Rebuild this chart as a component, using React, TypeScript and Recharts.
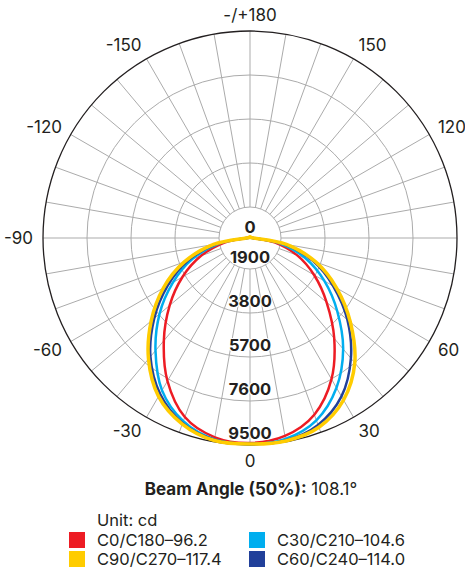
import { RadarChart, Radar, PolarGrid, PolarAngleAxis, PolarRadiusAxis } from 'recharts';

// gamma angles in degrees: 0 straight down, negative on the left, positive on the right.
// listed clockwise on screen starting at the bottom
const ANGLES = [
  0, -10, -20, -30, -40, -50, -60, -70, -80, -90, -100, -110, -120, -130, -140, -150, -160, -170,
  180, 170, 160, 150, 140, 130, 120, 110, 100, 90, 80, 70, 60, 50, 40, 30, 20, 10,
];

// luminous intensity (cd), one value per angle above
const C0_C180 = [
  9410, 9300, 8790, 7690, 6350, 5090, 3930, 2810, 1680, 690, 620, 600, 600, 600, 600, 600, 600, 600,
  600, 600, 600, 600, 600, 600, 600, 600, 620, 690, 1640, 2720, 3760, 4880, 6220, 7600, 8680, 9240,
];
const C30_C210 = [
  9460, 9390, 8980, 8160, 6910, 5660, 4400, 3200, 1900, 690, 620, 600, 600, 600, 600, 600, 600, 600,
  600, 600, 600, 600, 600, 600, 600, 600, 620, 690, 1860, 3110, 4270, 5480, 6820, 8030, 8940, 9370,
];
const C60_C240 = [
  9460, 9410, 9070, 8330, 7250, 5960, 4660, 3410, 2030, 690, 620, 600, 600, 600, 600, 600, 600, 600,
  600, 600, 600, 600, 600, 600, 600, 600, 620, 690, 2070, 3450, 4710, 6050, 7340, 8460, 9150, 9440,
];
const C90_C270 = [
  9460, 9440, 9110, 8460, 7380, 6130, 4880, 3580, 2160, 730, 640, 620, 610, 610, 610, 610, 610, 610,
  590, 610, 610, 610, 610, 610, 610, 620, 640, 730, 2160, 3580, 4880, 6220, 7600, 8640, 9260, 9460,
];

const RADIUS_TICKS = [0, 1900, 3800, 5700, 7600, 9500];
const RINGS = [1900, 3800, 5700, 7600];
const OUTER_RING = 9500;

const SERIES = [
  { key: 'c0', name: 'C0/C180–96.2', color: '#ed1c24', width: 2.5, values: C0_C180 },
  { key: 'c30', name: 'C30/C210–104.6', color: '#00aeef', width: 2.5, values: C30_C210 },
  { key: 'c60', name: 'C60/C240–114.0', color: '#21409a', width: 2.5, values: C60_C240 },
  { key: 'c90', name: 'C90/C270–117.4', color: '#ffcc00', width: 3.5, values: C90_C270 },
];
const LEGEND_ORDER = ['c0', 'c30', 'c90', 'c60'];

const CX = 250;
const CY = 238;
const INNER = 31;
const OUTER = 207;
const TEXT = '#231f20';
const FONT = 'Inter, "Noto Sans", sans-serif';

const data = ANGLES.map((angle, i) => {
  const row: Record<string, number> = { angle };
  SERIES.forEach((s) => {
    row[s.key] = s.values[i];
  });
  return row;
});

// radius of a grid ring, same linear mapping as the radius axis
const ringRadius = (v: number) =>
  INNER + ((v - RINGS[0]) / (OUTER_RING - RINGS[0])) * (OUTER - INNER);

// closed Catmull-Rom curve through the points Recharts computed
function smoothClosed(pts: { x: number; y: number }[]) {
  const n = pts.length;
  if (!n) return '';
  let d = `M${pts[0].x},${pts[0].y}`;
  for (let i = 0; i < n; i++) {
    const p0 = pts[(i - 1 + n) % n];
    const p1 = pts[i];
    const p2 = pts[(i + 1) % n];
    const p3 = pts[(i + 2) % n];
    const c1x = p1.x + (p2.x - p0.x) / 6;
    const c1y = p1.y + (p2.y - p0.y) / 6;
    const c2x = p2.x - (p3.x - p1.x) / 6;
    const c2y = p2.y - (p3.y - p1.y) / 6;
    d += ` C${c1x},${c1y} ${c2x},${c2y} ${p2.x},${p2.y}`;
  }
  return d + ' Z';
}

function AngleTick(props: any) {
  const { payload } = props;
  const a = Number(payload.value);
  if (a % 30 !== 0) return <g />;
  const label = a === 180 ? '-/+180' : String(a);
  const rad = ((270 + a) * Math.PI) / 180;
  const ux = Math.cos(rad);
  const uy = -Math.sin(rad);
  const r = OUTER + 10;
  const anchor = Math.abs(ux) < 0.01 ? 'middle' : ux > 0 ? 'start' : 'end';
  return (
    <text
      x={CX + r * ux}
      y={CY + r * uy + 6 * uy}
      textAnchor={anchor}
      dominantBaseline="central"
      fontSize={17}
      fill={TEXT}
      fontFamily={FONT}
    >
      {label}
    </text>
  );
}

function RadiusTick(props: any) {
  const { x, y, payload } = props;
  const center = payload.value === 0;
  return (
    <text
      x={x}
      y={center ? y + 1.5 : y - 12}
      textAnchor="middle"
      dominantBaseline="central"
      fontSize={16.5}
      fontWeight={700}
      fill={TEXT}
      stroke="#fff"
      strokeWidth={2}
      paintOrder="stroke"
      fontFamily={FONT}
    >
      {payload.value}
    </text>
  );
}

export default function App() {
  return (
    <div
      style={{
        position: 'absolute',
        left: 0,
        top: 0,
        width: 465,
        height: 568,
        background: '#fff',
        fontFamily: FONT,
        color: TEXT,
        overflow: 'hidden',
      }}
    >
      <RadarChart
        width={465}
        height={475}
        data={data}
        cx={CX}
        cy={CY}
        innerRadius={INNER}
        outerRadius={OUTER}
        startAngle={270}
        endAngle={-90}
        margin={{ top: 0, right: 0, bottom: 0, left: 0 }}
      >
        <PolarGrid
          gridType="circle"
          polarRadius={RINGS.map(ringRadius)}
          stroke="#ababab"
          strokeWidth={1}
        />
        <PolarGrid
          gridType="circle"
          polarRadius={[ringRadius(OUTER_RING)]}
          polarAngles={[]}
          radialLines={false}
          stroke={TEXT}
          strokeWidth={1.3}
        />
        <PolarAngleAxis dataKey="angle" tick={AngleTick} tickLine={false} axisLine={false} />
        {SERIES.map((s) => (
          <Radar
            key={s.key}
            name={s.name}
            dataKey={s.key}
            stroke={s.color}
            strokeWidth={s.width}
            fill="none"
            fillOpacity={0}
            dot={false}
            isAnimationActive={false}
            shape={(p: any) => (
              <path
                d={smoothClosed(p.points || [])}
                fill="none"
                stroke={s.color}
                strokeWidth={s.width}
                strokeLinejoin="round"
              />
            )}
          />
        ))}
        <PolarRadiusAxis
          angle={-90}
          type="number"
          domain={[RINGS[0], OUTER_RING]}
          allowDataOverflow
          ticks={RADIUS_TICKS}
          tick={RadiusTick}
          axisLine={false}
          tickLine={false}
        />
      </RadarChart>

      <div
        style={{
          position: 'absolute',
          left: 0,
          width: 502,
          top: 479,
          textAlign: 'center',
          fontSize: 17,
          lineHeight: '20px',
        }}
      >
        <b>Beam Angle (50%):</b> 108.1°
      </div>

      <div style={{ position: 'absolute', left: 97, top: 512, fontSize: 16.5, lineHeight: '16px' }}>
        Unit: cd
      </div>
      {LEGEND_ORDER.map((key, i) => {
        const s = SERIES.find((x) => x.key === key)!;
        const col = i % 2;
        const row = Math.floor(i / 2);
        return (
          <div
            key={key}
            style={{
              position: 'absolute',
              left: col === 0 ? 69 : 249,
              top: 532 + row * 19,
              display: 'flex',
              alignItems: 'center',
              fontSize: 16.5,
              lineHeight: '16px',
            }}
          >
            <span
              style={{
                display: 'inline-block',
                width: 16,
                height: 16,
                background: s.color,
                marginRight: 12,
              }}
            />
            <span>{s.name}</span>
          </div>
        );
      })}
    </div>
  );
}
